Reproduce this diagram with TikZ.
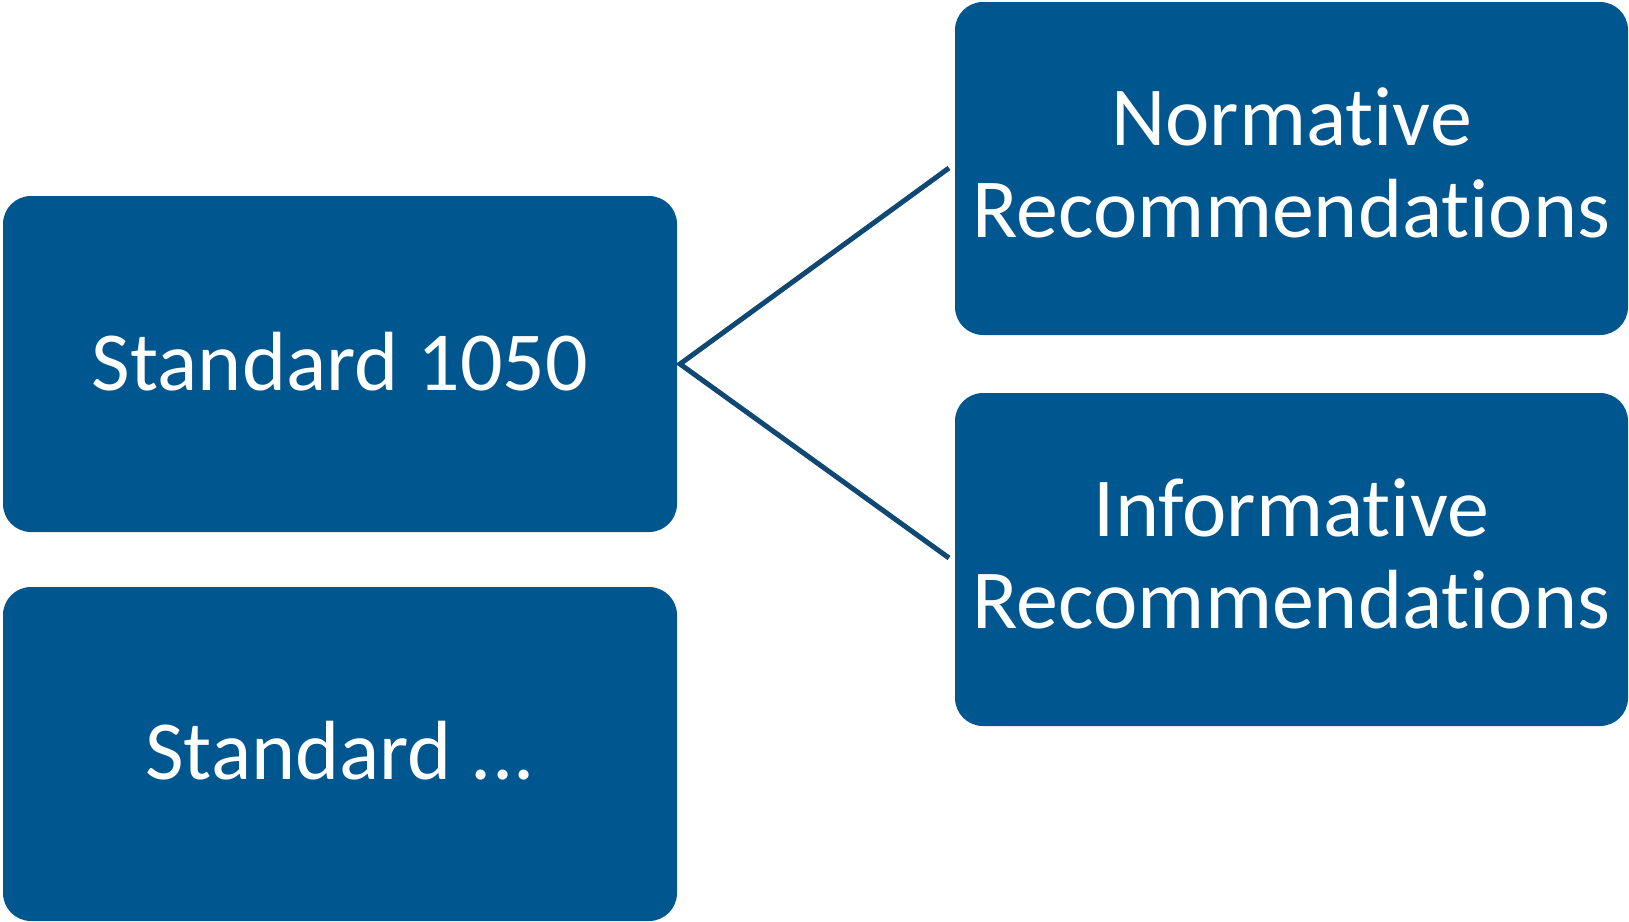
\documentclass[tikz,border=0pt]{standalone}
\usepackage{fontspec}
\setmainfont[Ligatures=NoCommon]{Carlito}
\definecolor{boxblue}{RGB}{0,86,143}
\definecolor{lineblue}{RGB}{16,72,116}
\newcommand{\twolines}[2]{\begin{tabular}{@{}c@{}}#1\\#2\end{tabular}}
\begin{document}
\begin{tikzpicture}[x=1pt,y=-1pt,
  stdbox/.style={draw=none,fill=boxblue,rounded corners=28pt,inner sep=0pt},
  boxtext/.style={inner sep=0pt,text=white,align=center,font=\fontsize{84}{92}\selectfont},
  link/.style={draw=lineblue,line width=5pt}]
\useasboundingbox (0,0) rectangle (1629,921);
\node[stdbox,minimum width=674pt,minimum height=336pt] (s1050) at (340,364) {};
\node[stdbox,minimum width=674pt,minimum height=334pt] (sdots) at (340,754) {};
\node[stdbox,minimum width=673pt,minimum height=333pt] (norm) at (1291.5,168.5) {};
\node[stdbox,minimum width=673pt,minimum height=333pt] (info) at (1291.5,559.5) {};
\node[boxtext,yshift=2pt] (s1050t) at (s1050.center) {Standard 1050};
\node[boxtext,yshift=3pt] (sdotst) at (sdots.center) {Standard ...};
\node[boxtext,yshift=-5pt] (normt) at (norm.center) {\twolines{Normative}{Recommendations}};
\node[boxtext,yshift=-5pt] (infot) at (info.center) {\twolines{Informative}{Recommendations}};
\coordinate (apex) at (680,364);
\coordinate (ntip) at (949,168);
\coordinate (itip) at (949,558);
\draw[link] (ntip) -- (apex) -- (itip);
\end{tikzpicture}
\end{document}
